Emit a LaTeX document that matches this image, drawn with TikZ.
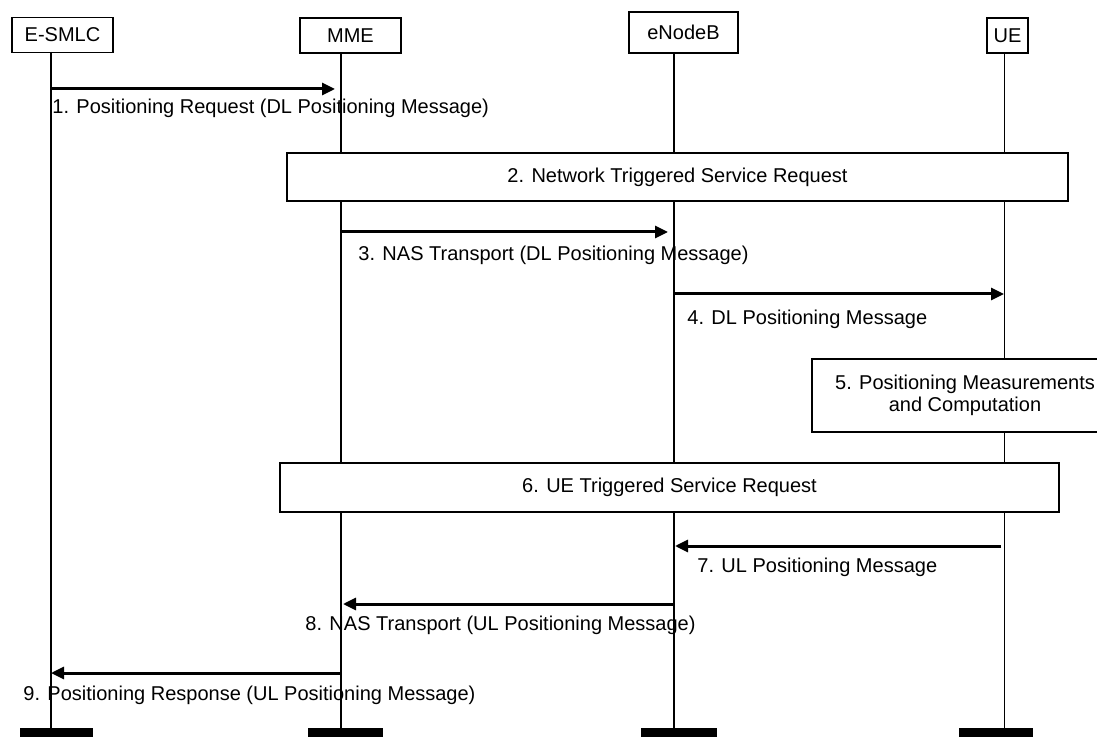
\documentclass[tikz,border=0pt]{standalone}
\usepackage{fontspec}
\setmainfont{Liberation Sans}
\usetikzlibrary{arrows.meta, positioning}

\begin{document}
\begin{tikzpicture}[
    x=0.5pt, y=-0.5pt,
    font=\fontsize{10}{11}\selectfont,
    entity/.style={rectangle, draw, line width=0.6pt, inner sep=0pt, minimum height=17.5pt},
    lifeline/.style={line width=1pt},
    endbar/.style={rectangle, fill=black, inner sep=0pt, minimum width=37.5pt, minimum height=6pt},
    stepbox/.style={rectangle, draw, fill=white, line width=0.7pt, inner sep=0pt, align=center},
    msg/.style={-{Triangle[length=6.5pt, width=6pt]}, line width=1.5pt},
    msglabel/.style={anchor=west, inner sep=0pt},
]
\useasboundingbox (0,0) rectangle (1097,737);

% Entities
\node[entity, minimum width=50.5pt] (esmlc) at (62.5,35) {E-SMLC};
\node[entity, minimum width=50.5pt] (mme) at (350.5,35.5) {MME};
\node[entity, minimum width=54.5pt, minimum height=20.5pt] (enb) at (683.5,32.5) {eNodeB};
\node[entity, minimum width=20.5pt] (ue) at (1007.5,35.5) {UE};

% Life lines
\coordinate (esmlcTop) at (51,52);
\coordinate (mmeTop) at (341,53);
\coordinate (enbTop) at (674,53);
\coordinate (ueTop) at (1004,53);
\node[endbar, minimum width=36.5pt] (esmlcEnd) at (56.5,734) {};
\node[endbar] (mmeEnd) at (345.5,734) {};
\node[endbar, minimum width=38pt] (enbEnd) at (679,734) {};
\node[endbar, minimum width=37pt] (ueEnd) at (996,734) {};
\draw[lifeline] (esmlcTop) -- (esmlcTop |- esmlcEnd.north);
\draw[lifeline] (mmeTop) -- (mmeTop |- mmeEnd.north);
\draw[lifeline] (enbTop) -- (enbTop |- enbEnd.north);
\draw[lifeline, line width=0.5pt] (ueTop) -- (ueTop |- ueEnd.north);

% Procedures
\node[stepbox, minimum width=390.5pt, minimum height=24pt] (nwtsr) at (677.5,177) {2. Network Triggered Service Request};
\node[stepbox, minimum width=153pt, minimum height=36.5pt] (meas) at (965,395.5) {5. Positioning Measurements\\and Computation};
\node[stepbox, minimum width=389.5pt, minimum height=24.5pt] (uetsr) at (669.5,487.5) {6. UE Triggered Service Request};

% Messages
\coordinate (m1a) at (51,89);   \coordinate (m1b) at (335,89);
\coordinate (m3a) at (341,232); \coordinate (m3b) at (668,232);
\coordinate (m4a) at (674,294); \coordinate (m4b) at (1004,294);
\coordinate (m7a) at (1001,546); \coordinate (m7b) at (675,546);
\coordinate (m8a) at (674,604); \coordinate (m8b) at (343,604);
\coordinate (m9a) at (341,673); \coordinate (m9b) at (51,673);

\draw[msg] (m1a) -- (m1b);
\draw[msg] (m3a) -- (m3b);
\draw[msg] (m4a) -- (m4b);
\draw[msg] (m7a) -- (m7b);
\draw[msg] (m8a) -- (m8b);
\draw[msg] (m9a) -- (m9b);

\node[msglabel] (l1) at (52,108) {1. Positioning Request (DL Positioning Message)};
\node[msglabel] (l3) at (358,255) {3. NAS Transport (DL Positioning Message)};
\node[msglabel] (l4) at (687,319) {4. DL Positioning Message};
\node[msglabel] (l7) at (697,567) {7. UL Positioning Message};
\node[msglabel] (l8) at (305,625) {8. NAS Transport (UL Positioning Message)};
\node[msglabel] (l9) at (23,695) {9. Positioning Response (UL Positioning Message)};

\end{tikzpicture}
\end{document}
